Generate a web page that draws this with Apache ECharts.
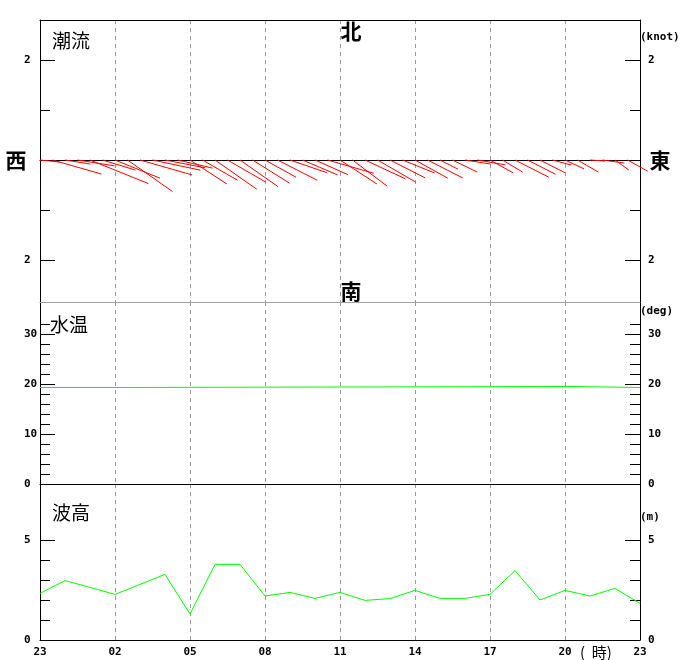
<!DOCTYPE html>
<html><head><meta charset="utf-8">
<script src="https://cdn.jsdelivr.net/npm/echarts@6/dist/echarts.min.js"></script>
<style>html,body{margin:0;padding:0;background:#fff}#c{width:680px;height:660px}</style>
</head><body><div id="c"></div>
<script>
// ---- data ----
const xTickLabels = ['23','02','05','08','11','14','17','20','23'];
// tidal current, every 30 min from 23:00 (hours since 23:00)
const currentTimes = [0,0.5,1,1.5,2,2.5,3,3.5,4,4.5,5,5.5,6,6.5,7,7.5,8,8.5,9,9.5,10,10.5,11,11.5,
                      12,12.5,13,13.5,14,14.5,15,15.5,16,16.5,17,17.5,18,18.5,19,19.5,20,20.5,21,21.5,22,22.5,23,23.5];
const currentSpeed = [0.40,1.02,0.51,0.75,1.26,0.69,0.97,1.10,1.08,0.98,0.82,0.72,
                      0.88,0.81,1.02,0.88,0.93,0.87,0.71,0.89,0.78,0.76,0.72,0.96,
                      0.88,0.87,0.89,0.88,0.79,0.69,0.75,0.79,0.40,0.55,0.51,0.57,
                      0.53,0.47,0.76,0.63,0.56,0.39,0.42,0.48,0.30,0.44,0.34,0.46];
const currentDir = [96,106,99,99,112,107,112,125,106,102,101,103,
                    123,120,125,120,125,122,119,117,109,113,114,106,
                    123,127,115,120,117,112,119,117,117,116,99,100,
                    119,121,117,117,117,105,115,120,94,98,126,119];
// water temperature
const tempTimes  = [0, 2.76, 2.77, 21.24, 21.25, 24];
const tempValues = [19.3, 19.3, 19.5, 19.5, 19.3, 19.3];
// wave height, hourly
const waveTimes  = [0,1,2,3,4,5,6,7,8,9,10,11,12,13,14,15,16,17,18,19,20,21,22,23,24];
const waveHeight = [2.33,2.97,2.63,2.28,2.78,3.28,1.3,3.78,3.78,2.2,2.38,2.08,2.38,1.98,2.07,2.48,2.08,2.08,2.28,3.47,2.0,2.48,2.2,2.58,1.83];
// tick values
const curMajor = [-2, 2], curMinor = [-1, 1];
const tempMajor = [0, 10, 20, 30], tempMinor = [2,4,6,8,12,14,16,18,22,24,26,28,32];
const waveMajor = [0, 5], waveMinor = [1, 2, 3, 4];

// ---- chart ----
const MONO = 'DejaVu Sans Mono';
const CJK = 'Noto Sans CJK JP';
const chart = echarts.init(document.getElementById('c'), null, {renderer: 'canvas'});

function yAxes(grid, min, max, major, minor, fmt) {
  const out = [];
  ['left', 'right'].forEach(pos => {
    out.push({
      type: 'value', gridIndex: grid, position: pos, min: min, max: max,
      axisLine: {show: true, lineStyle: {color: '#000', width: 1}},
      axisTick: {show: true, inside: true, length: 15, customValues: major, lineStyle: {color: '#000'}},
      axisLabel: {show: true, customValues: major, formatter: fmt, align: 'left',
                  margin: pos === 'left' ? 16 : 8,
                  fontFamily: MONO, fontWeight: 'bold', fontSize: 11, color: '#000'},
      splitLine: {show: false}
    });
    out.push({
      type: 'value', gridIndex: grid, position: pos, min: min, max: max,
      axisLine: {show: false},
      axisTick: {show: true, inside: true, length: 10, customValues: minor, lineStyle: {color: '#000'}},
      axisLabel: {show: false},
      splitLine: {show: false}
    });
  });
  return out;
}

const dashed = {show: true, lineStyle: {color: '#999', type: [4, 4], width: 1}};
function xAxis(grid, pos, opts) {
  return Object.assign({
    type: 'value', gridIndex: grid, position: pos, min: 0, max: 24, interval: 3,
    axisLine: {show: true, onZero: false, lineStyle: {color: '#000', width: 1}},
    axisTick: {show: false}, axisLabel: {show: false}, splitLine: {show: false}
  }, opts || {});
}

const option = {
  animation: false,
  backgroundColor: '#fff',
  grid: [
    {left: 40, right: 40, top: 20, height: 282},
    {left: 40, right: 40, top: 302, height: 182},
    {left: 40, right: 40, top: 484, height: 156}
  ],
  xAxis: [
    xAxis(0, 'top', {splitLine: dashed}),
    xAxis(0, 'bottom', {axisLine: {show: true, onZero: true, onZeroAxisIndex: 0, lineStyle: {color: '#000'}}}),
    xAxis(1, 'top', {axisLine: {show: true, onZero: false, lineStyle: {color: '#a0a0a0'}}}),
    xAxis(1, 'bottom', {splitLine: dashed}),
    xAxis(2, 'bottom', {splitLine: dashed,
      axisLabel: {show: true, showMinLabel: true, showMaxLabel: true, margin: 7,
        formatter: v => xTickLabels[Math.round(v / 3)],
        fontFamily: MONO, fontWeight: 'bold', fontSize: 11, color: '#000'}})
  ],
  yAxis: [].concat(
    yAxes(0, -2.84, 2.8, curMajor, curMinor, v => String(Math.abs(v))),
    yAxes(1, 0, 36.4, tempMajor, tempMinor, v => String(v)),
    yAxes(2, 0, 7.8, waveMajor, waveMinor, v => String(v))
  ),
  series: [
    {
      type: 'custom', xAxisIndex: 0, yAxisIndex: 0, clip: false, silent: true,
      data: currentTimes.map((t, i) => [t, currentSpeed[i], currentDir[i]]),
      encode: {x: 0, y: 1},
      renderItem: function (params, api) {
        const t = api.value(0), s = api.value(1), d = api.value(2) * Math.PI / 180;
        const p0 = api.coord([t, 0]);
        const k = api.size([0, 1])[1];
        const east = s * Math.sin(d), north = s * Math.cos(d);
        return {type: 'line',
          shape: {x1: p0[0], y1: p0[1], x2: p0[0] + east * k, y2: p0[1] - north * k},
          style: {stroke: '#ff0000', lineWidth: 1}};
      }
    },
    {
      type: 'line', xAxisIndex: 3, yAxisIndex: 4, showSymbol: false, symbol: 'none',
      lineStyle: {color: '#00ff00', width: 1}, silent: true,
      data: tempTimes.map((t, i) => [t, tempValues[i]])
    },
    {
      type: 'line', xAxisIndex: 4, yAxisIndex: 8, showSymbol: false, symbol: 'none',
      lineStyle: {color: '#00ff00', width: 1}, silent: true,
      data: waveTimes.map((t, i) => [t, waveHeight[i]])
    }
  ],
  graphic: [
    {type: 'text', left: 52, top: 31, style: {text: '潮流', font: '19px "' + CJK + '"', fill: '#000'}},
    {type: 'text', left: 50, top: 315, style: {text: '水温', font: '19px "' + CJK + '"', fill: '#000'}},
    {type: 'text', left: 52, top: 503, style: {text: '波高', font: '19px "' + CJK + '"', fill: '#000'}},
    {type: 'text', x: 351, y: 31, style: {text: '北', font: 'bold 21px "' + CJK + '"', fill: '#000', align: 'center', verticalAlign: 'middle'}},
    {type: 'text', x: 351, y: 291, style: {text: '南', font: 'bold 21px "' + CJK + '"', fill: '#000', align: 'center', verticalAlign: 'middle'}},
    {type: 'text', x: 16, y: 160, style: {text: '西', font: 'bold 21px "' + CJK + '"', fill: '#000', align: 'center', verticalAlign: 'middle'}},
    {type: 'text', x: 660, y: 160, style: {text: '東', font: 'bold 21px "' + CJK + '"', fill: '#000', align: 'center', verticalAlign: 'middle'}},
    {type: 'text', x: 640, y: 37, style: {text: '(knot)', font: 'bold 11px "' + MONO + '"', fill: '#000', align: 'left', verticalAlign: 'middle'}},
    {type: 'text', x: 640, y: 311, style: {text: '(deg)', font: 'bold 11px "' + MONO + '"', fill: '#000', align: 'left', verticalAlign: 'middle'}},
    {type: 'text', x: 640, y: 517, style: {text: '(m)', font: 'bold 11px "' + MONO + '"', fill: '#000', align: 'left', verticalAlign: 'middle'}},
    {type: 'text', x: 580, y: 652, style: {text: '(  時)', font: '15px "' + CJK + '"', fill: '#000', align: 'left', verticalAlign: 'middle'}}
  ]
};
chart.setOption(option);
</script>
</body></html>
